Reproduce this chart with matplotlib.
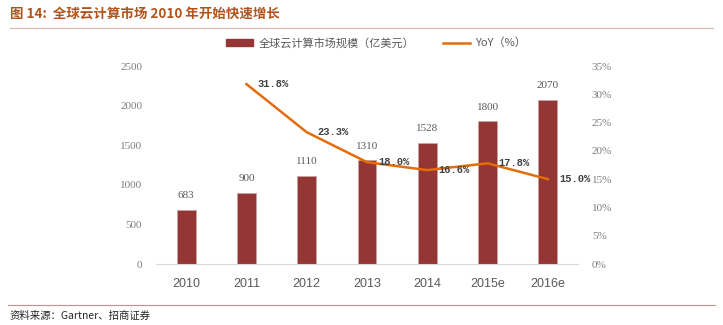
import matplotlib

matplotlib.use('Agg')

import matplotlib.pyplot as plt
import matplotlib.lines as mlines
import matplotlib.patches as mpatches
import numpy as np

plt.rcParams['font.family'] = ['Noto Sans CJK SC', 'DejaVu Sans']

years = ['2010', '2011', '2012', '2013', '2014', '2015e', '2016e']
market = [683, 900, 1110, 1310, 1528, 1800, 2070]          # 亿美元
yoy = [np.nan, 31.8, 23.3, 18.0, 16.6, 17.8, 15.0]         # %

bar_color = '#943634'
line_color = '#E46C0A'
tick_gray = '#7F7F7F'
title_color = '#B0531C'

fig = plt.figure(figsize=(7.23, 3.25), dpi=100)
ax = fig.add_axes([156 / 723, 61 / 325, 422 / 723, 198 / 325])
ax2 = ax.twinx()

x = np.arange(len(years))
bars = ax.bar(x, market, width=0.315, color=bar_color, edgecolor='#C9A3A2', linewidth=0.6, zorder=2)
ax2.plot(x, yoy, color=line_color, linewidth=1.8, zorder=3)

ax.set_xlim(-0.5, len(years) - 0.5)
ax.set_ylim(0, 2500)
ax.set_yticks(np.arange(0, 2501, 500))
ax2.set_ylim(0, 35)
ax2.set_yticks(np.arange(0, 36, 5))
ax2.set_yticklabels([f'{v}%' for v in range(0, 36, 5)])

ax.set_xticks(x)
ax.set_xticklabels(years, family='Liberation Sans', fontsize=9, color='#595959')
ax.tick_params(axis='x', length=0, pad=10)
for a in (ax, ax2):
    for s in a.spines.values():
        s.set_visible(False)
ax.spines['bottom'].set_visible(True)
ax.spines['bottom'].set_color('#D9D9D9')
ax.tick_params(axis='y', length=0, pad=10, labelcolor=tick_gray)
ax2.tick_params(axis='y', length=0, pad=10, labelcolor=tick_gray)
for lab in ax.get_yticklabels() + ax2.get_yticklabels():
    lab.set_family('Liberation Serif')
    lab.set_fontsize(8)

# bar value labels
for xi, v in zip(x, market):
    ax.annotate(f'{v}', (xi, v), xytext=(0, 7), textcoords='offset points',
                ha='center', va='bottom', fontsize=8, color='#595959',
                family='Liberation Serif')

# YoY labels
for xi, v in zip(x, yoy):
    if np.isnan(v):
        continue
    ax2.annotate(f'{v:.1f}%', (xi, v), xytext=(8, 0), textcoords='offset points',
                 ha='left', va='center', fontsize=7.5, color='#404040',
                 family='Liberation Mono', fontweight='bold')

# legend
handles = [mpatches.Patch(color=bar_color, label='全球云计算市场规模（亿美元）'),
           mlines.Line2D([], [], color=line_color, linewidth=1.8, label='YoY（%）')]
fig.legend(handles=handles, loc='center', bbox_to_anchor=(0.52, 0.868), ncol=2,
           frameon=False, fontsize=8, labelcolor='#595959', handlelength=2.4,
           handleheight=0.6, columnspacing=2.6, handletextpad=0.5)

# title and source
fig.text(10 / 723, 1 - 14 / 325, '图 14:  全球云计算市场 2010 年开始快速增长',
         fontsize=9.7, fontweight='bold', color=title_color, va='center', ha='left')
fig.add_artist(mlines.Line2D([10 / 723, 713 / 723], [1 - 28 / 325] * 2,
                             color='#DDB3AC', linewidth=0.8))
fig.add_artist(mlines.Line2D([8 / 723, 715 / 723], [1 - 305 / 325] * 2,
                             color='#C98F8A', linewidth=0.8))
fig.text(10 / 723, 1 - 316 / 325, '资料来源：Gartner、招商证券',
         fontsize=7.5, color='#262626', va='center', ha='left')

fig.savefig('out.png', dpi=100)
